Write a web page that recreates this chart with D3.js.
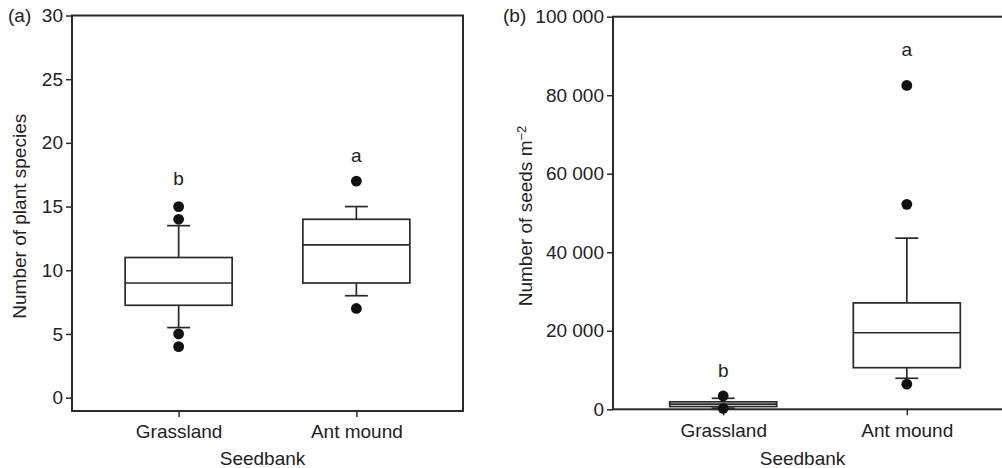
<!DOCTYPE html>
<meta charset="utf-8">
<head>
  <script src="https://d3js.org/d3.v7.min.js"></script>
  <style>
    body { margin: 0; background: #fff; }
    text { font-family: "Liberation Sans", Arial, sans-serif; fill: #222; }
  </style>
</head>
<body>
<div id="display"></div>
<script>

// categories
var groups = ["Grassland", "Ant mound"];

// (a) number of plant species: [lowWhisker, q1, median, q3, highWhisker]
var speciesBox = [[5.5, 7.25, 9, 11, 13.5], [8, 9, 12, 14, 15]];
var speciesOutliers = [[15, 14, 5, 4], [17, 7]];
var speciesLetters = ["b", "a"];
var speciesLetterY = [17.2, 19.05];
var speciesTicks = [0, 5, 10, 15, 20, 25, 30];

// (b) number of seeds per m2
var seedsBox = [[300, 700, 1300, 1900, 2800], [7900, 10600, 19500, 27100, 43600]];
var seedsOutliers = [[3400, 250], [82500, 52200, 6400]];
var seedsLetters = ["b", "a"];
var seedsLetterY = [10000, 91700];
var seedsTicks = [0, 20000, 40000, 60000, 80000, 100000];

var svg = d3.select("#display")
  .append("svg")
    .attr("width", 1002)
    .attr("height", 468);

var fmt = d3.formatLocale({decimal: ".", thousands: " ", grouping: [3], currency: ["", ""]}).format(",");

function panel(opt) {
  var g = svg.append("g");

  var x = d3.scalePoint()
    .domain(groups)
    .range([opt.left, opt.right])
    .padding(0.6);

  var y = d3.scaleLinear()
    .domain(opt.domain)
    .range([opt.bottom, opt.top]);

  // frame
  g.append("rect")
    .attr("x", opt.left)
    .attr("y", opt.top)
    .attr("width", opt.right - opt.left)
    .attr("height", opt.bottom - opt.top)
    .attr("fill", "none")
    .attr("stroke", "#2a2a2a")
    .attr("stroke-width", 2);

  var yAxis = g.append("g")
    .attr("transform", "translate(" + opt.left + ",0)")
    .call(d3.axisLeft(y).tickValues(opt.ticks).tickSize(6).tickPadding(3).tickFormat(opt.format));

  var xAxis = g.append("g")
    .attr("transform", "translate(0," + opt.bottom + ")")
    .call(d3.axisBottom(x).tickSize(6).tickPadding(8));

  [yAxis, xAxis].forEach(function(a) {
    a.select(".domain").remove();
    a.selectAll("line").attr("stroke", "#2a2a2a").attr("stroke-width", 1.5);
    a.selectAll("text").attr("font-size", 19).attr("fill", "#222")
      .attr("font-family", "'Liberation Sans', Arial, sans-serif");
  });

  var bw = 107, cap = 23;

  groups.forEach(function(name, i) {
    var b = opt.box[i], cx = x(name);
    var bg = g.append("g").attr("stroke", "#2a2a2a").attr("stroke-width", 1.7);

    // whiskers
    bg.append("line").attr("x1", cx).attr("x2", cx).attr("y1", y(b[3])).attr("y2", y(b[4]));
    bg.append("line").attr("x1", cx).attr("x2", cx).attr("y1", y(b[1])).attr("y2", y(b[0]));
    bg.append("line").attr("x1", cx - cap / 2).attr("x2", cx + cap / 2).attr("y1", y(b[4])).attr("y2", y(b[4]));
    bg.append("line").attr("x1", cx - cap / 2).attr("x2", cx + cap / 2).attr("y1", y(b[0])).attr("y2", y(b[0]));

    bg.append("rect")
      .attr("x", cx - bw / 2)
      .attr("y", y(b[3]))
      .attr("width", bw)
      .attr("height", y(b[1]) - y(b[3]))
      .attr("fill", "#fff");

    bg.append("line").attr("x1", cx - bw / 2).attr("x2", cx + bw / 2).attr("y1", y(b[2])).attr("y2", y(b[2]));

    g.selectAll(null)
      .data(opt.outliers[i])
      .enter()
      .append("circle")
        .attr("cx", cx)
        .attr("cy", function(d) { return y(d); })
        .attr("r", 5.4)
        .attr("fill", "#111");

    g.append("text")
      .attr("x", cx)
      .attr("y", y(opt.letterY[i]))
      .attr("dy", "0.35em")
      .attr("text-anchor", "middle")
      .attr("font-size", 19)
      .text(opt.letters[i]);
  });

  // titles
  g.append("text")
    .attr("x", (opt.left + Math.min(opt.right, 1002)) / 2 - 5)
    .attr("y", 465)
    .attr("text-anchor", "middle")
    .attr("font-size", 19)
    .text("Seedbank");

  var yt = g.append("text")
    .attr("transform", "translate(" + opt.titleX + "," + ((opt.top + opt.bottom) / 2 + 3) + ") rotate(-90)")
    .attr("text-anchor", "middle")
    .attr("font-size", 19);
  yt.append("tspan").text(opt.title);
  if (opt.sup) {
    yt.append("tspan").attr("dy", "-0.45em").attr("font-size", 13).text(opt.sup);
  }

  g.append("text")
    .attr("x", opt.tagX)
    .attr("y", 15)
    .attr("dy", "0.35em")
    .attr("font-size", 19)
    .text(opt.tag);
}

panel({
  left: 72, right: 463, top: 15.5, bottom: 411,
  domain: [-1.05, 30], ticks: speciesTicks, format: d3.format("d"),
  box: speciesBox, outliers: speciesOutliers, letters: speciesLetters, letterY: speciesLetterY,
  title: "Number of plant species", titleX: 26, tag: "(a)", tagX: 8
});

panel({
  left: 613, right: 1017, top: 16.7, bottom: 409.3,
  domain: [0, 100000], ticks: seedsTicks, format: fmt,
  box: seedsBox, outliers: seedsOutliers, letters: seedsLetters, letterY: seedsLetterY,
  title: "Number of seeds m", sup: "\u22122", titleX: 532, tag: "(b)", tagX: 503
});

</script>
</body>
